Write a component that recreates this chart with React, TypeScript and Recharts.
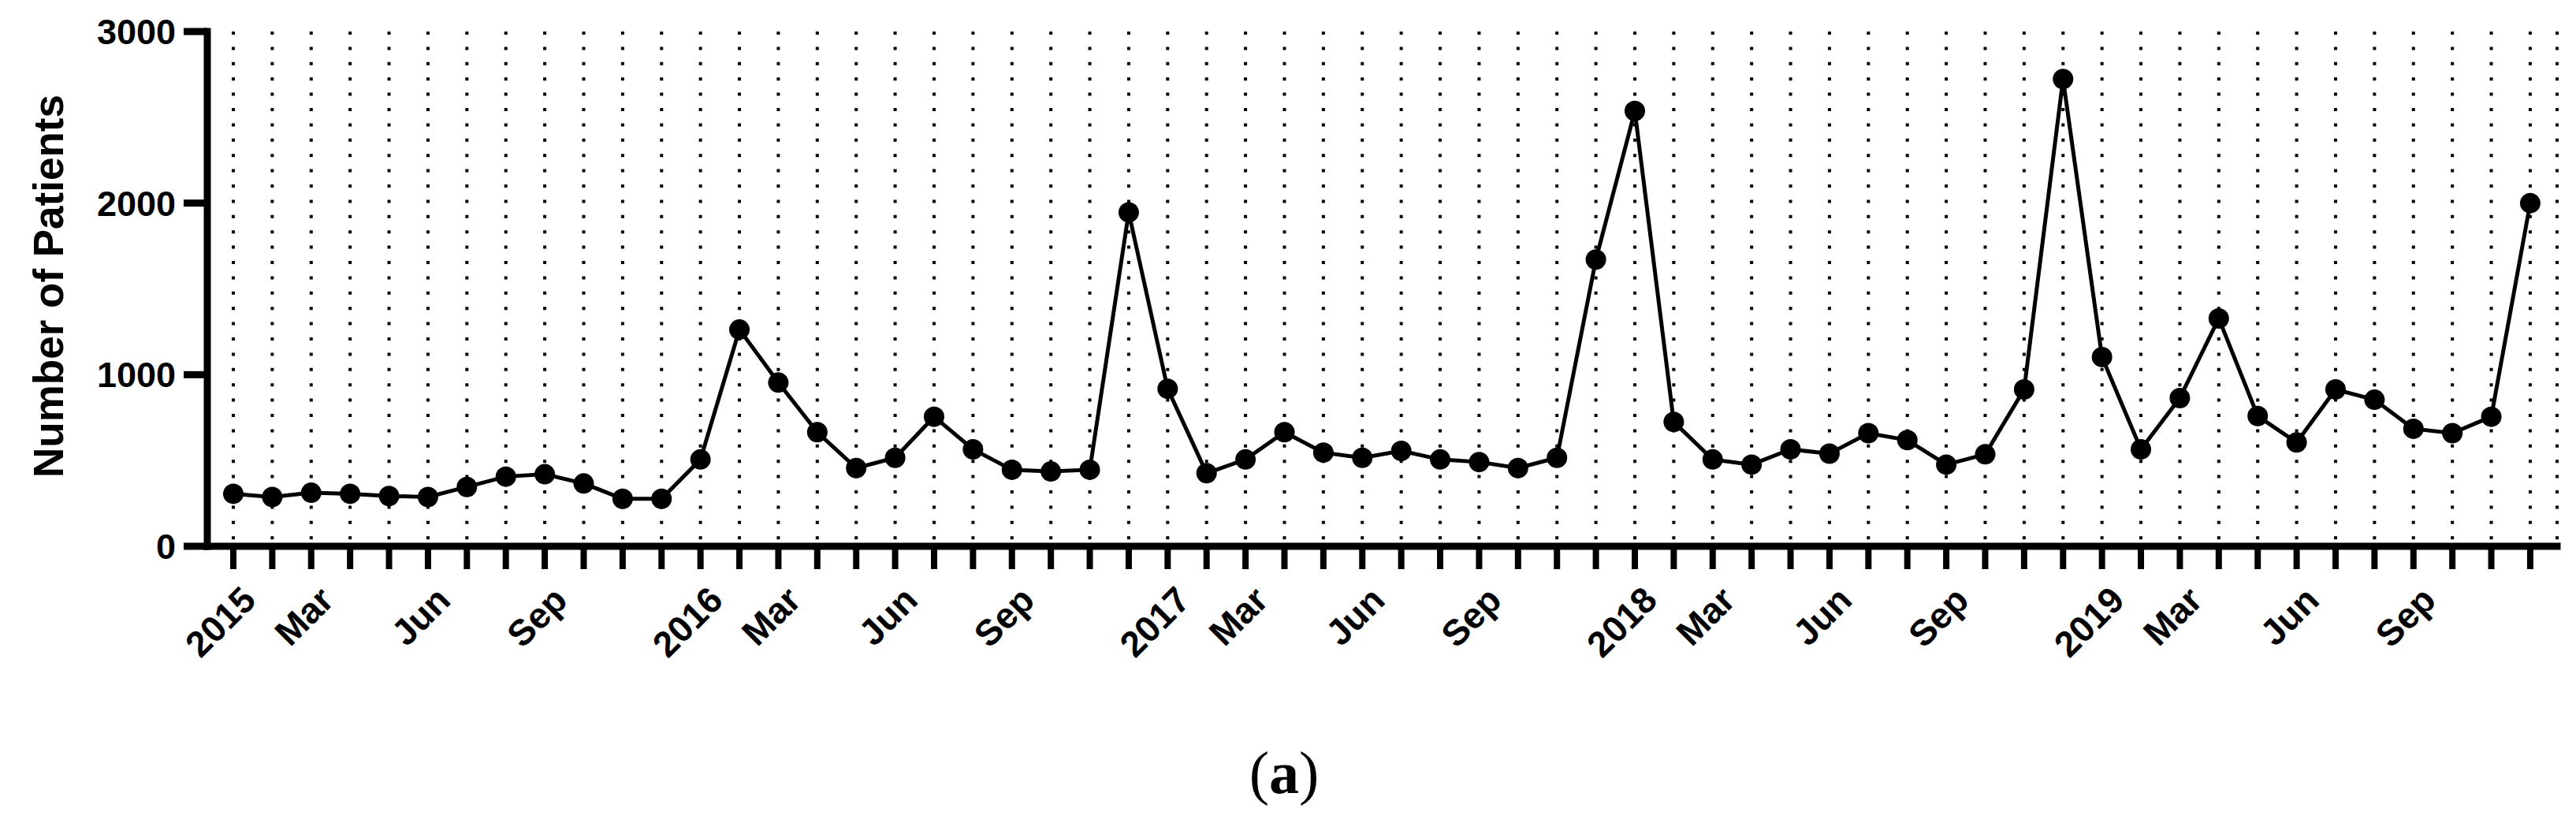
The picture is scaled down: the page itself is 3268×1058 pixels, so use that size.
import { CartesianGrid, Line, LineChart, XAxis, YAxis } from "recharts";

const patients = [
  306, 287, 312, 306, 293, 287, 346, 406, 420, 366, 277, 277,
  506, 1263, 954, 665, 456, 516, 755, 565, 446, 436, 446, 1946,
  918, 426, 506, 665, 546, 516, 556, 506, 491, 456, 516, 1671,
  2537, 725, 506, 476, 565, 540, 659, 619, 476, 536, 914, 2723,
  1103, 565, 864, 1328, 759, 605, 914, 854, 685, 659, 755, 2000,
];

const monthLabels = [
  "2015", "", "Mar", "", "", "Jun", "", "", "Sep", "", "", "",
  "2016", "", "Mar", "", "", "Jun", "", "", "Sep", "", "", "",
  "2017", "", "Mar", "", "", "Jun", "", "", "Sep", "", "", "",
  "2018", "", "Mar", "", "", "Jun", "", "", "Sep", "", "", "",
  "2019", "", "Mar", "", "", "Jun", "", "", "Sep", "", "", "",
];

const yTicks = [0, 1000, 2000, 3000];

const data = patients.map((value, i) => ({ i, value }));
const xTicks = monthLabels.map((_, i) => i);

const FONT = "'Liberation Sans', Arial, sans-serif";

function MonthTick({ x, y, payload }: any) {
  const label = monthLabels[payload.value];
  if (!label) return null;
  const ax = x + 31;
  const ay = y + 42;
  return (
    <text
      x={ax}
      y={ay}
      transform={`rotate(-45 ${ax} ${ay})`}
      textAnchor="end"
      fontFamily={FONT}
      fontWeight="bold"
      fontSize={46}
      fill="#000"
    >
      {label}
    </text>
  );
}

function YTitle() {
  return (
    <text
      x={80}
      y={363}
      transform="rotate(-90 80 363)"
      textAnchor="middle"
      fontFamily={FONT}
      fontWeight="bold"
      fontSize={53}
      fill="#000"
    >
      Number of Patients
    </text>
  );
}

export default function App() {
  return (
    <div style={{ position: "absolute", left: 0, top: 0, width: 3268, height: 1058, background: "#fff" }}>
      <LineChart
        width={3268}
        height={1058}
        data={data}
        margin={{ top: 40, right: 24, bottom: 265, left: 63 }}
      >
        <CartesianGrid
          horizontal={false}
          stroke="#000"
          strokeWidth={4}
          strokeDasharray="4 15.4"
        />
        <XAxis
          type="number"
          dataKey="i"
          domain={[-0.668, 59.69]}
          allowDataOverflow
          ticks={xTicks}
          interval={0}
          height={100}
          tickSize={29}
          tickMargin={0}
          axisLine={{ stroke: "#000", strokeWidth: 9, strokeLinecap: "square" }}
          tickLine={{ stroke: "#000", strokeWidth: 8 }}
          tick={<MonthTick />}
        />
        <YAxis
          domain={[0, 3000]}
          ticks={yTicks}
          width={200}
          tickSize={30}
          tickMargin={10}
          axisLine={{ stroke: "#000", strokeWidth: 9, strokeLinecap: "square" }}
          tickLine={{ stroke: "#000", strokeWidth: 9 }}
          tick={{ fontFamily: FONT, fontWeight: "bold", fontSize: 45, fill: "#000" }}
          label={{ content: () => <YTitle /> }}
        />
        <Line
          type="linear"
          dataKey="value"
          stroke="#000"
          strokeWidth={5}
          dot={{ r: 13, fill: "#000", stroke: "none" }}
          activeDot={false}
          isAnimationActive={false}
        />
      </LineChart>
      <svg
        width={3268}
        height={1058}
        style={{ position: "absolute", left: 0, top: 0, pointerEvents: "none" }}
      >
        <text x={1629} y={1006} textAnchor="middle" fontFamily="'Liberation Serif', 'Times New Roman', serif" fontSize={76} fill="#000">
          (<tspan fontWeight="bold">a</tspan>)
        </text>
      </svg>
    </div>
  );
}
